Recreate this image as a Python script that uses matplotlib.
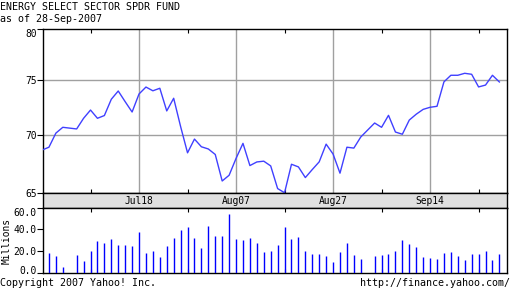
import numpy as np
import pandas as pd
import matplotlib
matplotlib.use("Agg")
import matplotlib.pyplot as plt
import matplotlib.transforms as mtransforms

# ---------------- data ----------------
title = "ENERGY SELECT SECTOR SPDR FUND"
subtitle = "as of 28-Sep-2007"
holidays = ["2007-07-04", "2007-09-03"]
price_dates = [d for d in pd.bdate_range("2007-06-28", "2007-09-28").strftime("%Y-%m-%d")
               if d not in holidays]
vol_dates = price_dates[1:]

price = [68.66, 68.92, 70.20, 70.73, 70.58, 71.55, 72.30, 71.55, 71.80, 73.28,
         74.03, 73.06, 72.12, 73.76, 74.39, 74.05, 74.28, 72.22, 73.37, 70.80,
         68.41, 69.66, 68.96, 68.76, 68.26, 65.85, 66.37, 67.90, 69.27, 67.25,
         67.58, 67.65, 67.22, 65.16, 64.78, 67.37, 67.13, 66.16, 66.89, 67.59,
         69.20, 68.30, 66.56, 68.92, 68.84, 69.85, 71.12, 70.73, 71.82, 70.30,
         70.10, 71.39, 71.92, 72.36, 72.55, 72.64, 74.86, 75.46, 75.46, 75.64,
         75.55, 74.40, 74.57, 75.46, 74.85]

volume = [18.6, 15.9, 5.2, 16.8, 11.3, 19.8, 29.6, 27.8, 31.5, 25.6,
          25.6, 24.7, 37.9, 18.6, 20.2, 15.0, 25.0, 32.1, 39.7, 42.1,
          32.1, 23.2, 43.4, 33.9, 33.9, 54.0, 31.5, 30.5, 32.1, 27.5,
          19.5, 20.5, 25.6, 42.1, 31.5, 33.0, 20.2, 17.4, 17.4, 15.6,
          10.4, 19.5, 27.8, 16.5, 13.1, 15.6, 16.8, 17.7, 20.5, 30.5,
          26.9, 23.8, 15.0, 14.0, 13.1, 18.6, 19.5, 15.9, 12.2, 17.4,
          17.7, 20.2, 12.2, 17.4]

label_dates = ["2007-07-18", "2007-08-07", "2007-08-27", "2007-09-14"]
label_texts = ["Jul18", "Aug07", "Aug27", "Sep14"]
price_ticks = [70, 75]
price_labels = ["65", "70", "75", "80"]
vol_ticks = [20, 40]
vol_labels = ["0.0", "20.0", "40.0", "60.0"]

# ---------------- scales ----------------
origin = "2007-06-29"
xp = np.busday_count(origin, price_dates)
xv = np.busday_count(origin, vol_dates)
xmaj = np.busday_count(origin, label_dates)
xmin_t = np.concatenate([xmaj - 7, [xmaj[-1] + 7]])
XLIM = (-0.9, 66.1)
PLIM = (64.73, 79.64)
VLIM = (0, 60)

mono = "DejaVu Sans Mono"
fs = 7.2
tfs = 6.9
grid_c = "#a0a0a0"

fig = plt.figure(figsize=(5.12, 2.88), dpi=100)
W, H = 512, 288
def rect(x0, y0, x1, y1):
    return [x0 / W, 1 - y1 / H, (x1 - x0) / W, (y1 - y0) / H]

ax = fig.add_axes(rect(42.7, 29.3, 507, 193.3))
band = fig.add_axes(rect(42.7, 193.3, 507, 207.7))
axv = fig.add_axes(rect(42.7, 207.7, 507, 273))

for a in (ax, band, axv):
    a.set_xlim(*XLIM)
    for s in a.spines.values():
        s.set_color("black")
        s.set_linewidth(1.0)

def shift(label, dy_px):
    label.set_transform(label.get_transform() +
                        mtransforms.ScaledTranslation(0, dy_px / 100, fig.dpi_scale_trans))

# price
ax.plot(xp, price, color="#4040ff", lw=1.0, zorder=3)
ax.set_ylim(*PLIM)
ax.set_yticks([PLIM[0]] + price_ticks + [PLIM[1]])
ax.set_yticklabels(price_labels, fontfamily=mono, fontsize=tfs)
for v in price_ticks:
    ax.axhline(v, color=grid_c, lw=1.0, zorder=1)
for v in xmaj:
    ax.axvline(v, color=grid_c, lw=1.0, zorder=1)
ax.set_xticks(xmin_t)
ax.tick_params(axis="x", direction="in", length=3, top=True, bottom=True,
               labelbottom=False, color="black")
ax.tick_params(axis="y", direction="out", length=4, pad=0.5, color="black")
ax.get_yticklabels()[-1].set_va("top")

# band
band.set_facecolor("#e0e0e0")
band.set_yticks([])
band.set_xticks([])
tr = mtransforms.blended_transform_factory(band.transData, band.transAxes)
for x, t in zip(xmaj, label_texts):
    band.text(x, 0.45, t, transform=tr, ha="center", va="center",
              fontfamily=mono, fontsize=tfs)

# volume
axv.vlines(xv, 0, volume, color="#0000ff", lw=1.0, zorder=3)
axv.set_ylim(*VLIM)
axv.set_yticks([VLIM[0]] + vol_ticks + [VLIM[1]])
axv.set_yticklabels(vol_labels, fontfamily=mono, fontsize=tfs)
axv.tick_params(axis="x", direction="in", length=3, top=True, bottom=True,
                labelbottom=False, color="black")
axv.tick_params(axis="y", direction="out", length=4, pad=0.5, color="black")
axv.set_xticks(xmin_t)
vl = axv.get_yticklabels()
vl[-1].set_va("top")
shift(vl[0], 3)

# texts
fig.text(7 / W, 1 - 241 / H, "Millions", rotation=90, ha="center", va="center",
         fontfamily=mono, fontsize=tfs)
fig.text(0 / W, 1 - 7 / H, title, ha="left", va="center", fontfamily=mono, fontsize=fs)
fig.text(0 / W, 1 - 19.5 / H, subtitle, ha="left", va="center", fontfamily=mono, fontsize=fs)
fig.text(0 / W, 1 - 282.5 / H, "Copyright 2007 Yahoo! Inc.", ha="left", va="center",
         fontfamily=mono, fontsize=fs)
fig.text(510 / W, 1 - 282.5 / H, "http://finance.yahoo.com/", ha="right", va="center",
         fontfamily=mono, fontsize=fs)

fig.savefig("out.png", dpi=100, facecolor="white")
